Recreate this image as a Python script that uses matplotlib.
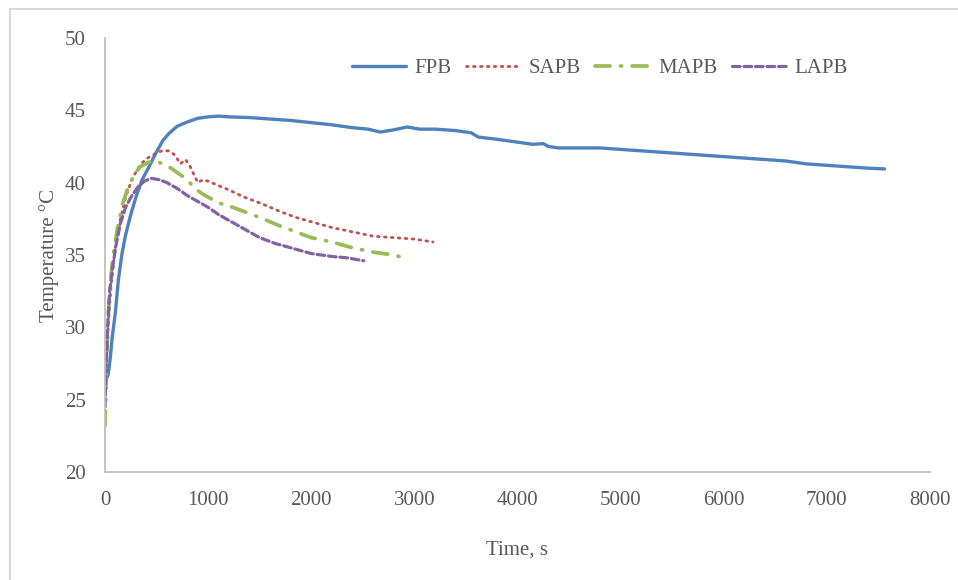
import matplotlib
matplotlib.use("Agg")
import matplotlib.pyplot as plt
from matplotlib.patches import Rectangle

plt.rcParams['font.family'] = ['Liberation Serif', 'DejaVu Serif']

# Temperature histories (time in s, temperature in °C)
fpb_t = [0, 15, 30, 50, 70, 100, 130, 165, 200, 250, 300, 360, 420, 490, 560, 620, 700, 800,
         900, 1000, 1100, 1200, 1400, 1600, 1800, 2000, 2200, 2400, 2550, 2670, 2800, 2930,
         3050, 3200, 3400, 3550, 3620, 3800, 4000, 4150, 4250, 4300, 4400, 4600, 4800, 5000,
         5200, 5400, 5600, 5800, 6000, 6200, 6400, 6600, 6800, 7000, 7200, 7400, 7560]
fpb_T = [26.6, 26.5, 26.7, 27.8, 29.3, 31.0, 33.3, 35.1, 36.4, 37.8, 39.0, 40.2, 41.0, 42.0,
         42.9, 43.4, 43.9, 44.2, 44.45, 44.55, 44.6, 44.55, 44.5, 44.4, 44.3, 44.15, 44.0,
         43.8, 43.7, 43.5, 43.65, 43.85, 43.7, 43.7, 43.6, 43.45, 43.15, 43.0, 42.8, 42.65,
         42.7, 42.5, 42.4, 42.4, 42.4, 42.3, 42.2, 42.1, 42.0, 41.9, 41.8, 41.7, 41.6, 41.5,
         41.3, 41.2, 41.1, 41.0, 40.95]

sapb_t = [0, 10, 20, 35, 60, 100, 150, 200, 260, 320, 390, 460, 550, 620, 680, 730, 780, 820,
          860, 900, 950, 1000, 1100, 1200, 1350, 1500, 1700, 1850, 2000, 2200, 2400, 2600,
          2800, 3000, 3180]
sapb_T = [24.5, 26.5, 28.5, 30.5, 33.0, 35.5, 37.5, 39.0, 40.2, 41.0, 41.6, 41.9, 42.2, 42.2,
          41.9, 41.3, 41.6, 41.2, 40.6, 40.0, 40.2, 40.1, 39.8, 39.5, 39.0, 38.6, 38.0, 37.6,
          37.3, 36.9, 36.6, 36.3, 36.2, 36.1, 35.9]

mapb_t = [0, 5, 15, 30, 50, 80, 120, 170, 220, 280, 340, 420, 490, 560, 640, 720, 800, 870,
          950, 1000, 1100, 1200, 1350, 1500, 1700, 1850, 2000, 2200, 2400, 2600, 2800, 2900]
mapb_T = [23.2, 24.5, 27.5, 30.5, 33.0, 35.0, 36.8, 38.5, 39.6, 40.5, 41.1, 41.4, 41.5, 41.3,
          41.0, 40.6, 40.2, 39.6, 39.2, 39.0, 38.6, 38.4, 38.0, 37.6, 37.0, 36.6, 36.2, 35.9,
          35.5, 35.2, 35.0, 34.8]

lapb_t = [0, 10, 25, 45, 75, 110, 150, 200, 260, 320, 380, 450, 530, 600, 700, 800, 900, 1000,
          1100, 1200, 1350, 1500, 1650, 1800, 2000, 2200, 2350, 2510]
lapb_T = [24.5, 27.0, 30.0, 32.5, 34.2, 35.8, 37.2, 38.3, 39.1, 39.7, 40.1, 40.3, 40.2, 40.0,
          39.6, 39.1, 38.7, 38.3, 37.8, 37.4, 36.8, 36.2, 35.8, 35.5, 35.1, 34.9, 34.8, 34.6]

x_ticks = [0, 1000, 2000, 3000, 4000, 5000, 6000, 7000, 8000]
y_ticks = [20, 25, 30, 35, 40, 45, 50]

fig = plt.figure(figsize=(9.58, 5.8), dpi=100)

# outer chart border
fig.patches.append(Rectangle((10 / 958, -0.1), 1.2, 1 - 9 / 580 + 0.1,
                             transform=fig.transFigure, fill=False,
                             edgecolor='#D9D9D9', linewidth=1.5, zorder=0))

ax = fig.add_axes([105 / 958, 1 - 472 / 580, 825 / 958, 434 / 580])

ax.plot(fpb_t, fpb_T, color='#4F81BD', lw=2.4, label='FPB', solid_capstyle='round')
ax.plot(sapb_t, sapb_T, color='#C0504D', lw=2.0, linestyle=(0, (0.6, 1.9)),
        dash_capstyle='round', label='SAPB')
ax.plot(mapb_t, mapb_T, color='#9BBB59', lw=2.7, linestyle=(0, (4.0, 2.8, 0.3, 2.8)),
        dash_capstyle='round', label='MAPB')
ax.plot(lapb_t, lapb_T, color='#8064A2', lw=2.3, linestyle=(0, (2.4, 1.2)),
        dash_capstyle='round', label='LAPB')

ax.set_xlim(0, 8000)
ax.set_ylim(20, 50)
ax.set_xticks(x_ticks)
ax.set_yticks(y_ticks)
ax.tick_params(length=0, labelsize=15, labelcolor='#595959', pad=14)

for s in ['top', 'right']:
    ax.spines[s].set_visible(False)
for s in ['left', 'bottom']:
    ax.spines[s].set_color('#BFBFBF')
    ax.spines[s].set_linewidth(1.3)

ax.set_xlabel('Time, s', fontsize=15, color='#595959', labelpad=22)
ax.set_ylabel('Temperature °C', fontsize=15, color='#595959', labelpad=4)

leg = ax.legend(loc='center left', bbox_to_anchor=((352 - 105) / 825, (472 - 68) / 434),
                ncol=4, frameon=False, fontsize=15, handlelength=2.6, handletextpad=0.4,
                columnspacing=0.7, borderpad=0, borderaxespad=0)
for txt in leg.get_texts():
    txt.set_color('#595959')

fig.savefig('out.png', dpi=100)
